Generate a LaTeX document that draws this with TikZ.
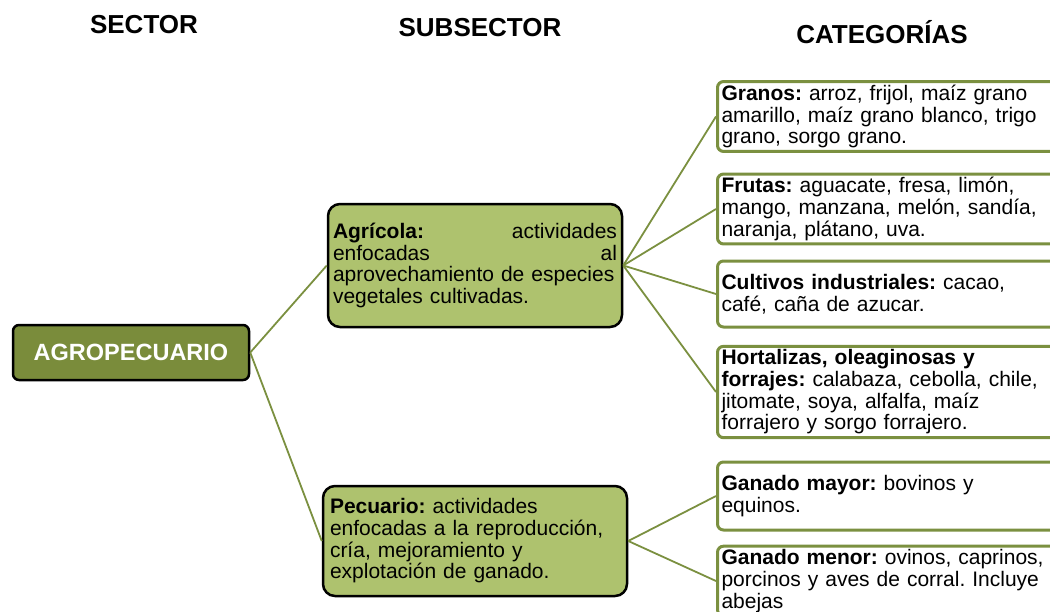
\documentclass[tikz,border=0pt]{standalone}
\usepackage{fontspec}
\setmainfont{Liberation Sans}
\usetikzlibrary{positioning}
\definecolor{olivedark}{HTML}{7A8C3B}
\definecolor{olivelight}{HTML}{AEC26E}
\definecolor{oliveline}{HTML}{7B9040}
\frenchspacing

\begin{document}
\begin{tikzpicture}[
    x=1pt, y=-1pt,
    link/.style={draw=oliveline, line width=1.8pt},
    hdr/.style={font=\fontsize{26}{30}\selectfont\bfseries},
    box/.style={draw, line width=2.5pt, font=\fontsize{21}{21.7}\selectfont\frenchspacing, align=left},
    sectorbox/.style={box, fill=olivedark, rounded corners=6pt, minimum width=236pt, minimum height=55pt, text=white, font=\fontsize{23.5}{26}\selectfont\bfseries},
    subbox/.style={box, fill=olivelight, rounded corners=12pt},
    catbox/.style={box, draw=oliveline, line width=3pt, fill=white, rounded corners=6pt, anchor=west, inner xsep=4pt, text width=340pt},
]
\useasboundingbox (0,0) rectangle (1050,611);
\clip (0,0) rectangle (1050,611);
% === Headers ===
\node[hdr] (hsector) at (144,25) {SECTOR};
\node[hdr] (hsub) at (480,28) {SUBSECTOR};
\node[hdr] (hcat) at (882,32) {CATEGORÍAS};
% === Sector ===
\node[sectorbox] (agro) at (131,352.5) {AGROPECUARIO};
% === Subsectors ===
\node[subbox, text width=284pt, inner xsep=5pt, minimum height=123pt] (agri) at (475,265.5) {\textbf{Agrícola:}\hfill actividades\\ enfocadas\hfill al\\ aprovechamiento de especies\\ vegetales cultivadas.};
\node[subbox, text width=290pt, inner xsep=7pt, minimum height=110pt] (pecu) at (475,541) {\textbf{Pecuario:} actividades\\ enfocadas a la reproducción,\\ cría, mejoramiento y\\ explotación de ganado.};
\draw[link] (agro.east) -- (agri.west);
\draw[link] (agro.east) -- (pecu.west);
% === Categories ===
\node[catbox, minimum height=67pt] (granos) at (716,116.5) {\textbf{Granos:} arroz, frijol, maíz grano\\ amarillo, maíz grano blanco, trigo\\ grano, sorgo grano.};
\node[catbox, minimum height=66pt] (frutas) at (716,209) {\textbf{Frutas:} aguacate, fresa, limón,\\ mango, manzana, melón, sandía,\\ naranja, plátano, uva.};
\node[catbox, minimum height=66pt] (cultivos) at (716,294) {\textbf{Cultivos industriales:} cacao,\\ café, caña de azucar.};
\node[catbox, minimum height=90pt] (hortalizas) at (716,392) {\textbf{Hortalizas, oleaginosas y}\\ \textbf{forrajes:} calabaza, cebolla, chile,\\ jitomate, soya, alfalfa, maíz\\ forrajero y sorgo forrajero.};
\node[catbox, minimum height=68pt] (gmayor) at (716,496) {\textbf{Ganado mayor:} bovinos y\\ equinos.};
\node[catbox, minimum height=66pt] (gmenor) at (716,581) {\textbf{Ganado menor:} ovinos, caprinos,\\ porcinos y aves de corral. Incluye\\ abejas};
\draw[link] (agri.east) -- (granos.west);
\draw[link] (agri.east) -- (frutas.west);
\draw[link] (agri.east) -- (cultivos.west);
\draw[link] (agri.east) -- (hortalizas.west);
\draw[link] (pecu.east) -- (gmayor.west);
\draw[link] (pecu.east) -- (gmenor.west);
\end{tikzpicture}
\end{document}
